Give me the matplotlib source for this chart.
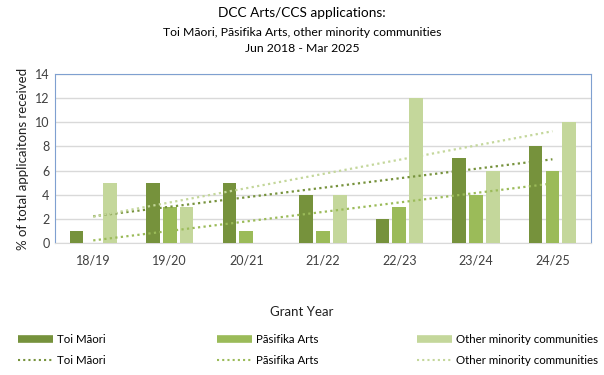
import numpy as np
import matplotlib.pyplot as plt
from matplotlib.lines import Line2D

# data
years = ["18/19", "19/20", "20/21", "21/22", "22/23", "23/24", "24/25"]
toi_maori = [1, 5, 5, 4, 2, 7, 8]
pasifika = [0, 3, 1, 1, 3, 4, 6]
other = [5, 3, 0, 4, 12, 6, 10]

series_names = ["Toi Māori", "Pāsifika Arts", "Other minority communities"]
colors = ["#76923C", "#9BBB59", "#C4D79B"]

plt.rcParams["font.family"] = ["Lato", "DejaVu Sans"]

fig = plt.figure(figsize=(6.04, 3.75), dpi=100)
ax = fig.add_axes([0.091, 0.352, 0.887, 0.451])

x = np.arange(len(years))
offset = 0.22
width = 0.18
for i, (vals, col) in enumerate(zip([toi_maori, pasifika, other], colors)):
    ax.bar(x + (i - 1) * offset, vals, width, color=col, zorder=3)

# linear trendlines
for vals, col in zip([toi_maori, pasifika, other], colors):
    k, b = np.polyfit(x, vals, 1)
    ax.plot(x, k * x + b, ls=(0, (1, 1.5)), lw=1.6, color=col, zorder=4)

ax.set_xlim(-0.5, len(years) - 0.5)
ax.set_ylim(0, 14)
ax.set_yticks(range(0, 15, 2))
ax.set_xticks(x)
ax.set_xticklabels(years)
ax.tick_params(length=0, labelsize=9, colors="#404040", pad=8)
ax.tick_params(axis="y", pad=4)
ax.grid(axis="y", color="#D9D9D9", lw=1, zorder=0)
for s in ["top", "right", "left"]:
    ax.spines[s].set_color("#7FA0D0")
ax.spines["bottom"].set_color("#D9D9D9")

ax.set_ylabel("% of total applicaitons received", fontsize=9.5, color="#202020")
fig.text(0.5, 1 - 312 / 375, "Grant Year", ha="center", va="center",
         fontsize=9.5, color="#202020")

fig.text(0.5, 1 - 13 / 375, "DCC Arts/CCS applications:", ha="center", va="center", fontsize=9.8)
fig.text(0.5, 1 - 32 / 375, "Toi Māori, Pāsifika Arts, other minority communities",
         ha="center", va="center", fontsize=8.8)
fig.text(0.5, 1 - 48 / 375, "Jun 2018 - Mar 2025", ha="center", va="center", fontsize=8.8)

# one small legend per series: bar swatch on top, trendline below
for name, col, left in zip(series_names, colors, [18, 217, 417]):
    handles = [Line2D([], [], color=col, lw=5.5, solid_capstyle="butt"),
               Line2D([], [], color=col, lw=1.5, ls=(0, (1, 1.5)))]
    fig.legend(handles, [name, name], loc="upper left",
               bbox_to_anchor=(left / 604, 1 - 334 / 375),
               frameon=False, fontsize=8.3, handlelength=3.0, handletextpad=0.35,
               labelspacing=0.85, borderpad=0, borderaxespad=0)

fig.savefig("out.png", dpi=100)
